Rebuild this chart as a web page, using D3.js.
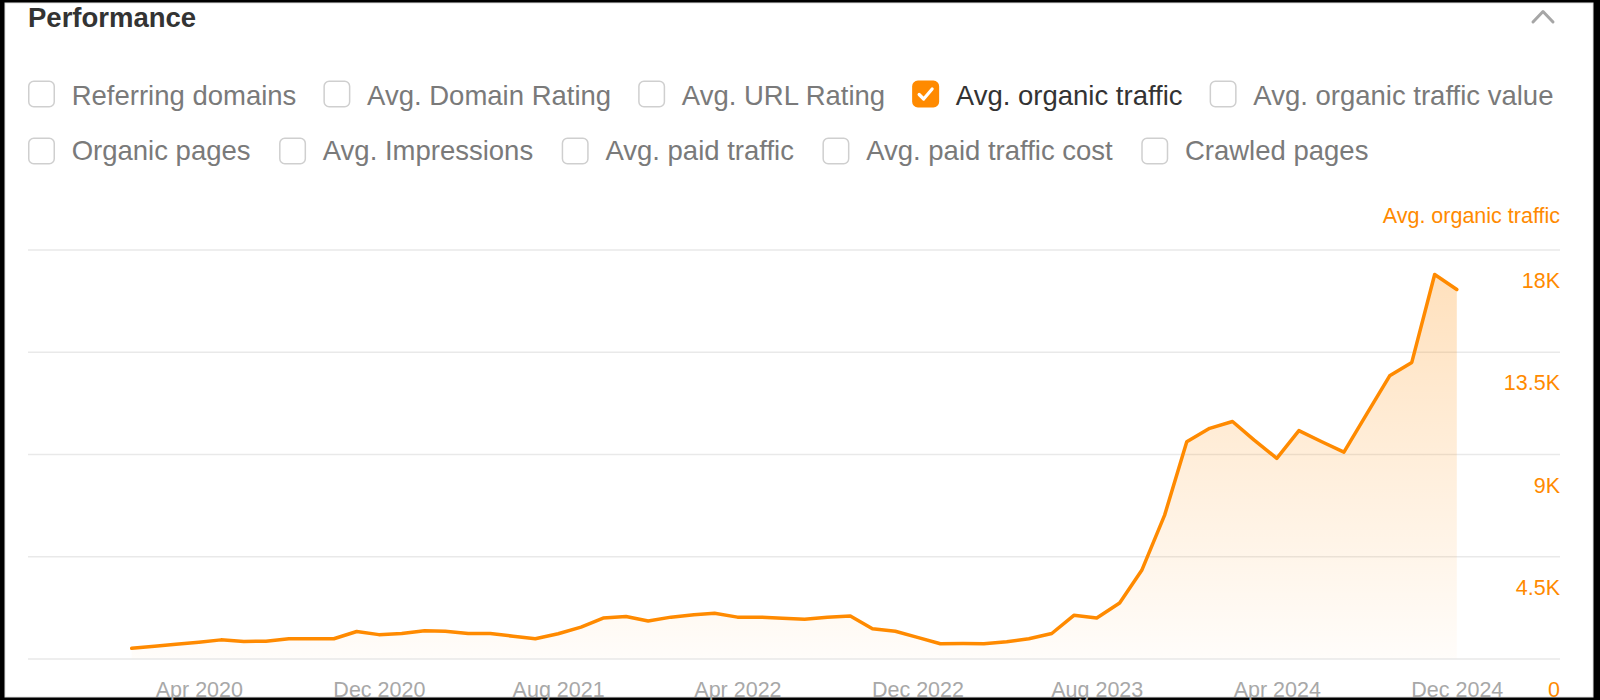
<!DOCTYPE html>
<html>
<head>
<meta charset="utf-8">
<script src="https://cdn.jsdelivr.net/npm/d3@7"></script>
<style>
  html, body { margin: 0; padding: 0; background: #000; }
  svg { display: block; }
  text { font-family: "Liberation Sans", Arial, Helvetica, sans-serif; }
</style>
</head>
<body>
<svg id="chart" width="1600" height="700"></svg>
<script>
// metric toggles shown above the chart
var rowOne = ["Referring domains", "Avg. Domain Rating", "Avg. URL Rating", "Avg. organic traffic", "Avg. organic traffic value"];
var rowTwo = ["Organic pages", "Avg. Impressions", "Avg. paid traffic", "Avg. paid traffic cost", "Crawled pages"];
var checkedMetric = "Avg. organic traffic";

// monthly avg. organic traffic, Jan 2020 .. Dec 2024
var firstMonth = "2020-01";
var lastMonth = "2024-12";
var traffic = [
  450, 540, 630, 720, 820, 750, 760, 870, 870, 870, 1190, 1050,
  1100, 1220, 1200, 1100, 1100, 980, 870, 1090, 1380, 1780, 1850, 1650,
  1820, 1930, 1990, 1820, 1820, 1770, 1730, 1820, 1870, 1310, 1200, 930,
  650, 660, 650, 740, 870, 1100, 1900, 1780, 2440, 3880, 6310, 9540,
  10130, 10430, 9620, 8810, 10030, 9540, 9080, 10770, 12440, 13030, 16900, 16240
];

var xTicks = ["2020-04", "2020-12", "2021-08", "2022-04", "2022-12", "2023-08", "2024-04", "2024-12"];
var yTicks = [0, 4500, 9000, 13500, 18000];
var yTickLabels = ["0", "4.5K", "9K", "13.5K", "18K"];
var axisTitle = "Avg. organic traffic";

var orange = "#ff8a00";

var parseMonth = d3.utcParse("%Y-%m");
var months = d3.utcMonth.range(parseMonth(firstMonth), d3.utcMonth.offset(parseMonth(lastMonth), 1));
var data = months.map(function (m, i) { return { date: m, value: traffic[i] }; });

var svg = d3.select("#chart");

// panel
svg.append("rect")
  .attr("x", 5).attr("y", 3)
  .attr("width", 1588).attr("height", 694)
  .attr("fill", "#fff")
  .attr("stroke", "#e2e2e2")
  .attr("stroke-width", 1);

svg.append("text")
  .attr("x", 28).attr("y", 26.5)
  .attr("font-size", 27.5)
  .attr("font-weight", "bold")
  .attr("fill", "#333")
  .text("Performance");

// collapse chevron
svg.append("path")
  .attr("d", "M1533,22 L1543,11.5 L1553,22")
  .attr("fill", "none")
  .attr("stroke", "#a6a6a6")
  .attr("stroke-width", 3)
  .attr("stroke-linecap", "round")
  .attr("stroke-linejoin", "round");

function drawToggles(labels, boxTop, baseline, gap) {
  var x = 28;
  labels.forEach(function (label) {
    var on = label === checkedMetric;
    var g = svg.append("g").attr("transform", "translate(" + x + "," + boxTop + ")");
    g.append("rect")
      .attr("x", 0.75).attr("y", 0.75)
      .attr("width", 25.5).attr("height", 25.5)
      .attr("rx", 5)
      .attr("fill", on ? orange : "#fff")
      .attr("stroke", on ? orange : "#cfcfcf")
      .attr("stroke-width", 1.5);
    if (on) {
      g.append("path")
        .attr("d", "M7,14 L11.5,18.5 L20,8.5")
        .attr("fill", "none")
        .attr("stroke", "#fff")
        .attr("stroke-width", 3.2)
        .attr("stroke-linecap", "round")
        .attr("stroke-linejoin", "round");
    }
    var t = svg.append("text")
      .attr("x", x + 43.7)
      .attr("y", baseline)
      .attr("font-size", 27.5)
      .attr("fill", on ? "#333" : "#7a7a7a")
      .text(label);
    x = x + 43.7 + t.node().getComputedTextLength() + gap;
  });
}
drawToggles(rowOne, 80.5, 105, 27);
drawToggles(rowTwo, 137.5, 160, 28.5);

// scales
var x = d3.scaleUtc()
  .domain([months[0], months[months.length - 1]])
  .range([131.7, 1456.8]);

var y = d3.scaleLinear()
  .domain([0, 18000])
  .range([658.5, 249.5]);

var gridLeft = 28, gridRight = 1560;

// y axis: gridlines with labels sitting below each line
var yAxis = d3.axisRight(y)
  .tickValues(yTicks)
  .tickSize(-(gridRight - gridLeft))
  .tickFormat(function (d, i) { return yTickLabels[i]; });

var yg = svg.append("g")
  .attr("transform", "translate(" + gridRight + ",0)")
  .call(yAxis);
yg.select(".domain").remove();
yg.selectAll(".tick line")
  .attr("stroke", "#e9e9e9")
  .attr("stroke-width", 1.5);
yg.selectAll(".tick text")
  .attr("x", 0)
  .attr("dy", 38)
  .attr("text-anchor", "end")
  .attr("font-size", 21.5)
  .attr("font-family", "Liberation Sans, Arial, sans-serif")
  .attr("fill", orange);

svg.append("text")
  .attr("x", gridRight).attr("y", 223)
  .attr("text-anchor", "end")
  .attr("font-size", 21.5)
  .attr("fill", orange)
  .text(axisTitle);

// x axis
var xAxis = d3.axisBottom(x)
  .tickValues(xTicks.map(parseMonth))
  .tickSize(0)
  .tickFormat(d3.utcFormat("%b %Y"));

var xg = svg.append("g")
  .attr("transform", "translate(0,697)")
  .call(xAxis);
xg.select(".domain").remove();
xg.selectAll(".tick text")
  .attr("y", 0)
  .attr("dy", 0)
  .attr("font-size", 21.5)
  .attr("font-family", "Liberation Sans, Arial, sans-serif")
  .attr("fill", "#a8a8a8");

// area fill
var defs = svg.append("defs");
var grad = defs.append("linearGradient")
  .attr("id", "fillGrad")
  .attr("gradientUnits", "userSpaceOnUse")
  .attr("x1", 0).attr("x2", 0)
  .attr("y1", y(d3.max(traffic))).attr("y2", y(0));
grad.append("stop").attr("offset", "0%").attr("stop-color", orange).attr("stop-opacity", 0.26);
grad.append("stop").attr("offset", "100%").attr("stop-color", orange).attr("stop-opacity", 0.02);

var area = d3.area()
  .x(function (d) { return x(d.date); })
  .y0(y(0))
  .y1(function (d) { return y(d.value); });

svg.append("path")
  .datum(data)
  .attr("d", area)
  .attr("fill", "url(#fillGrad)");

var line = d3.line()
  .x(function (d) { return x(d.date); })
  .y(function (d) { return y(d.value); });

svg.append("path")
  .datum(data)
  .attr("d", line)
  .attr("fill", "none")
  .attr("stroke", orange)
  .attr("stroke-width", 3.5)
  .attr("stroke-linejoin", "round")
  .attr("stroke-linecap", "round");
</script>
</body>
</html>
